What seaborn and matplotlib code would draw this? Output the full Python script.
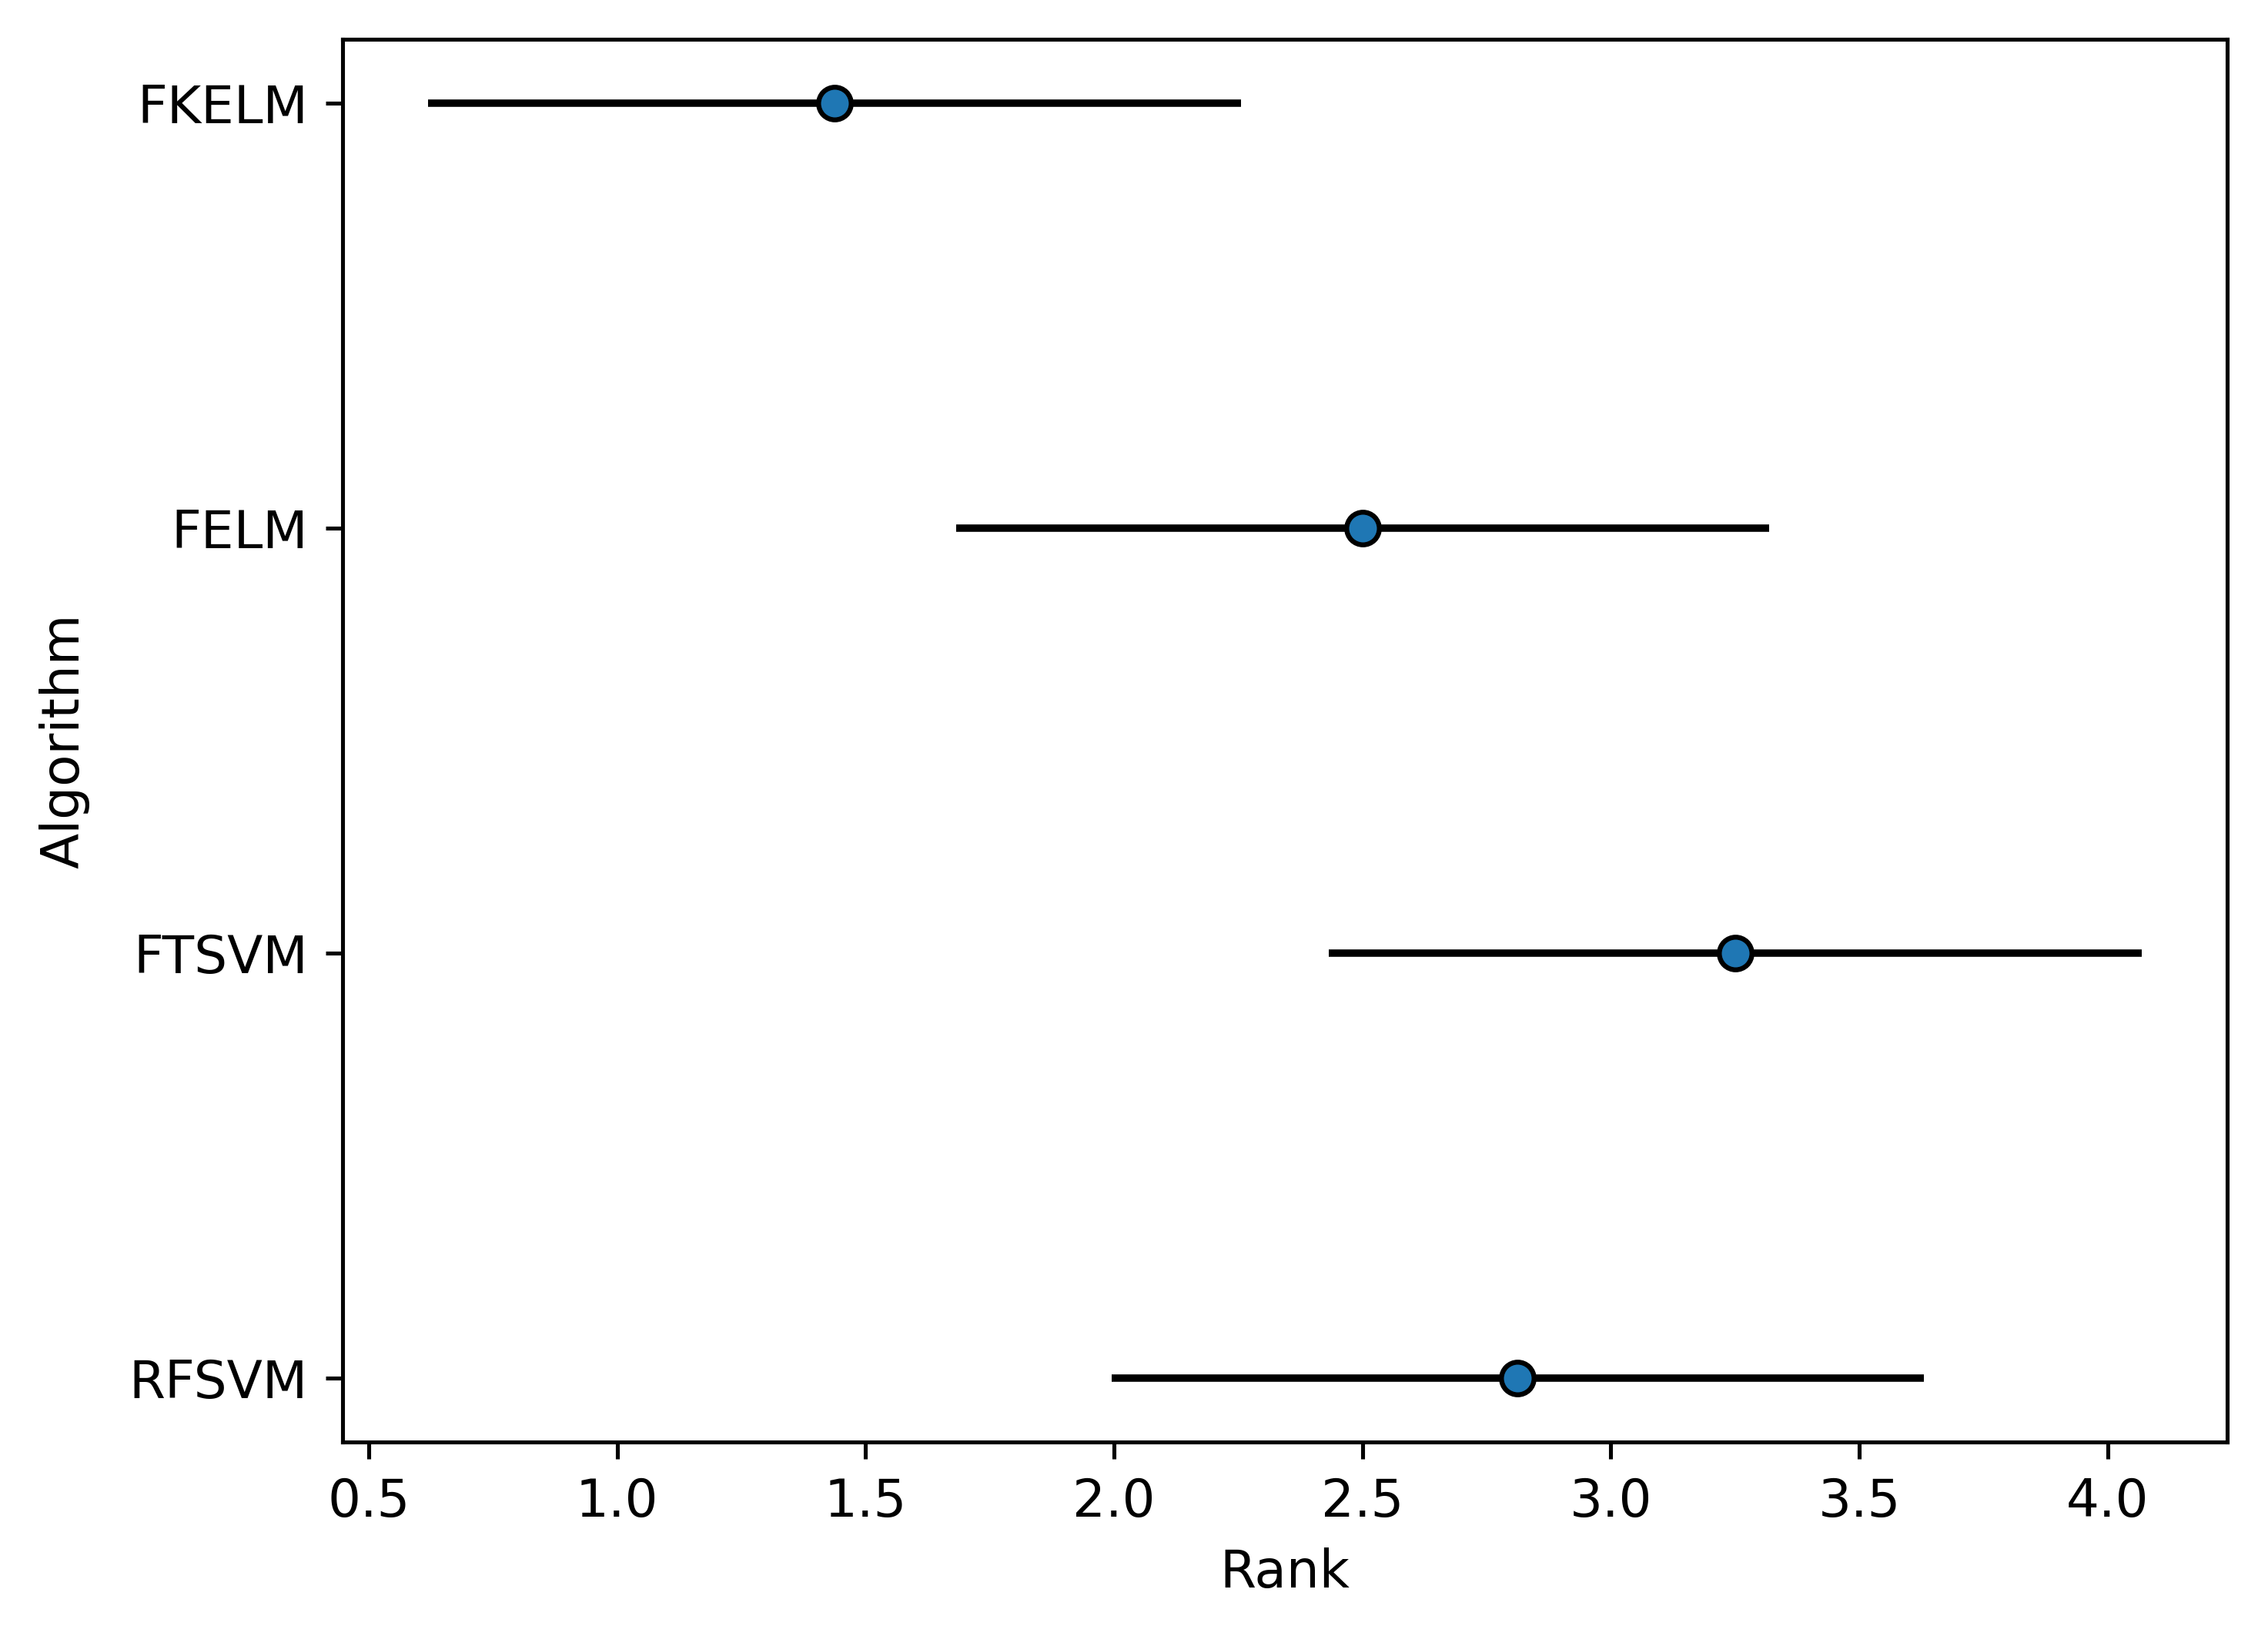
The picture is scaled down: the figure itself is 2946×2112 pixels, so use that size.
import matplotlib
matplotlib.use("Agg")
import matplotlib.pyplot as plt
import pandas as pd
import seaborn as sns

# average ranks, with the half width of each interval
algorithms = ["FKELM", "FELM", "FTSVM", "RFSVM"]
avg_rank = [1.4375, 2.5, 3.25, 2.8125]
half_width = [0.818, 0.818, 0.818, 0.818]

df = pd.DataFrame({"Algorithm": algorithms, "Rank": avg_rank, "err": half_width})

plt.rcParams["font.size"] = 10.6

fig = plt.figure(figsize=(2946 / 460, 2112 / 460), dpi=460)
ax = fig.add_axes([0.151, 0.113, 0.831, 0.863])

# intervals first, then the markers on top
ax.errorbar(df["Rank"], df["Algorithm"], xerr=df["err"], fmt="none",
            ecolor="black", elinewidth=1.5, zorder=2)
sns.scatterplot(data=df, x="Rank", y="Algorithm", ax=ax, s=44,
                color="#1f77b4", edgecolor="black", linewidth=1.0, zorder=3)

# keep FKELM at the top
if ax.get_ylim()[0] < ax.get_ylim()[1]:
    ax.invert_yaxis()
ax.set_xlabel("Rank")
ax.set_ylabel("Algorithm", labelpad=8)

fig.savefig("out.png", dpi=460)
